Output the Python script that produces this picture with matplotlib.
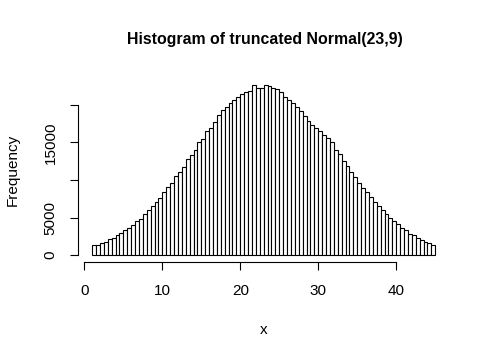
import numpy as np
import matplotlib
matplotlib.use("Agg")
import matplotlib.pyplot as plt

plt.rcParams["font.family"] = ["Liberation Sans", "DejaVu Sans"]

# Histograma: classes de largura 0.5 entre 1 e 45
bin_start = 1.0
bin_width = 0.5
counts = [
    1333, 1333, 1555, 1690, 2090, 2220, 2620, 2890, 3290, 3550,
    3950, 4480, 4750, 5420, 5950, 6480, 7020, 7550, 8350, 9010,
    9550, 10480, 11010, 11680, 12740, 13280, 13940, 15010, 15410, 16470,
    16870, 17670, 18600, 19270, 19670, 20200, 20730, 21130, 21530, 21670,
    21800, 22600, 22330, 22330, 22600, 22470, 22200, 22070, 21670, 21130,
    20730, 20200, 19670, 19140, 18470, 17800, 17270, 16870, 16470, 15950,
    15540, 15010, 13940, 13410, 12480, 11810, 11010, 10350, 9550, 8880,
    8350, 7680, 7020, 6480, 5950, 5420, 4880, 4480, 4090, 3550,
    3290, 2750, 2620, 2220, 1950, 1690, 1555, 1290,
]
x_ticks = [0, 10, 20, 30, 40]
y_ticks = [0, 5000, 10000, 15000, 20000]
y_labels = ["0", "5000", "", "15000", ""]

counts = np.array(counts)
left = bin_start + bin_width * np.arange(len(counts))

fig = plt.figure(figsize=(4.9, 3.6), dpi=100)
ax = fig.add_axes([0.160, 0.2728, 0.7563, 0.5086])

ax.bar(left, counts, width=bin_width, align="edge",
       facecolor="white", edgecolor="black", linewidth=0.8)

ax.set_xlim(-0.76, 46.76)
ax.set_ylim(-904, 23504)

for s in ["top", "right"]:
    ax.spines[s].set_visible(False)
ax.spines["bottom"].set_bounds(0, 40)
ax.spines["left"].set_bounds(0, 20000)
for s in ["bottom", "left"]:
    ax.spines[s].set_linewidth(0.8)

ax.set_xticks(x_ticks)
ax.set_xticklabels([str(v) for v in x_ticks])
ax.set_yticks(y_ticks)
ax.set_yticklabels(y_labels, rotation=90, va="center")
ax.tick_params(direction="out", length=6, width=0.8, labelsize=11)
ax.tick_params(axis="x", pad=10)
ax.tick_params(axis="y", pad=9)

fig.text(0.540, 0.889, "Histogram of truncated Normal(23,9)",
         ha="center", va="center", fontsize=11.4, fontweight="bold")
fig.text(0.538, 0.083, "x", ha="center", va="center", fontsize=11)
fig.text(0.027, 0.528, "Frequency", ha="center", va="center",
         rotation=90, fontsize=11)

fig.savefig("out.png", dpi=100)
